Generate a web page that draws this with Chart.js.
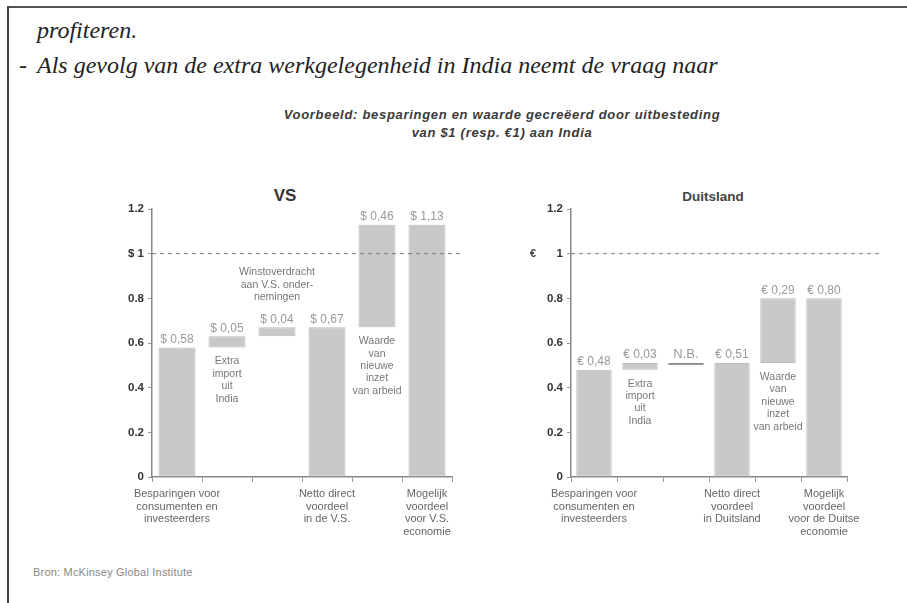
<!DOCTYPE html>
<html>
<head>
<meta charset="utf-8">
<script src="https://cdn.jsdelivr.net/npm/chart.js@4"></script>
<style>
  body { margin: 0; background: #fff; width: 907px; height: 603px; overflow: hidden; position: relative; }
  .frameTop { position: absolute; left: 7px; top: 6px; width: 900px; height: 2px; background: #555; }
  .frameLeft { position: absolute; left: 7px; top: 6px; width: 2px; height: 597px; background: #444; }
  .prose { position: absolute; font-family: "Liberation Serif", serif; font-style: italic; font-size: 24px; color: #222; white-space: nowrap; }
  .head { position: absolute; left: 252px; width: 500px; text-align: center; font-family: "Liberation Sans", Arial, sans-serif; font-style: italic; font-weight: bold; font-size: 13px; letter-spacing: 0.7px; color: #3a3a3a; white-space: nowrap; line-height: 18px; }
  .ctitle { position: absolute; font-family: "Liberation Sans", Arial, sans-serif; font-weight: bold; color: #333; transform: translateX(-50%); white-space: nowrap; }
  .src { position: absolute; left: 33px; top: 566px; font-family: "Liberation Sans", Arial, sans-serif; font-size: 11px; letter-spacing: 0.2px; color: #888; }
  canvas { position: absolute; }
</style>
</head>
<body>
<div class="frameTop"></div>
<div class="frameLeft"></div>
<div class="prose" style="left:37px; top:17px;">profiteren.</div>
<div class="prose" style="left:19px; top:52px;">-</div>
<div class="prose" style="left:37px; top:52px;">Als gevolg van de extra werkgelegenheid in India neemt de vraag naar</div>
<div class="head" style="top:106px;">Voorbeeld: besparingen en waarde gecreëerd door uitbesteding<br>van $1 (resp. €1) aan India</div>
<div class="ctitle" style="left:285px; top:186px; font-size:17px;">VS</div>
<div class="ctitle" style="left:713px; top:189px; font-size:13.5px; color:#444;">Duitsland</div>
<canvas id="vs" width="370" height="360" style="left:100px; top:190px;"></canvas>
<canvas id="de" width="380" height="360" style="left:520px; top:190px;"></canvas>
<div class="src">Bron: McKinsey Global Institute</div>

<script>
// VS (dollar) chart data
const vsCategories = [
  ["Besparingen voor", "consumenten en", "investeerders"],
  "", "",
  ["Netto direct", "voordeel", "in de V.S."],
  "",
  ["Mogelijk", "voordeel", "voor V.S.", "economie"]
];
const vsStart = [0, 0.58, 0.63, 0, 0.67, 0];
const vsEnd = [0.58, 0.63, 0.67, 0.67, 1.13, 1.13];
const vsValueLabels = ["$ 0,58", "$ 0,05", "$ 0,04", "$ 0,67", "$ 0,46", "$ 1,13"];
const vsNotes = [
  null,
  { where: "below", lines: ["Extra", "import", "uit", "India"] },
  { where: "above", lines: ["Winstoverdracht", "aan V.S. onder-", "nemingen"] },
  null,
  { where: "below", lines: ["Waarde", "van", "nieuwe", "inzet", "van arbeid"] },
  null
];

// Duitsland (euro) chart data
const deCategories = [
  ["Besparingen voor", "consumenten en", "investeerders"],
  "", "",
  ["Netto direct", "voordeel", "in Duitsland"],
  "",
  ["Mogelijk", "voordeel", "voor de Duitse", "economie"]
];
const deStart = [0, 0.48, 0.50, 0, 0.51, 0];
const deEnd = [0.48, 0.51, 0.51, 0.51, 0.80, 0.80];
const deValueLabels = ["€ 0,48", "€ 0,03", "N.B.", "€ 0,51", "€ 0,29", "€ 0,80"];
const deNotes = [
  null,
  { where: "below", lines: ["Extra", "import", "uit", "India"] },
  null,
  null,
  { where: "below", lines: ["Waarde", "van", "nieuwe", "inzet", "van arbeid"] },
  null
];

const yTicks = [0, 0.2, 0.4, 0.6, 0.8, 1, 1.2];

const FONT = '"Liberation Sans", Arial, sans-serif';

// draws the dashed $1 / €1 line, value labels and the notes
const annotate = {
  id: 'annotate',
  afterDatasetsDraw(chart, args, opts) {
    const c = chart.ctx;
    const { left, right } = chart.chartArea;
    const y = chart.scales.y;
    const meta = chart.getDatasetMeta(0);

    // dashed reference line at 1
    const y1 = y.getPixelForValue(1);
    c.save();
    c.strokeStyle = '#777';
    c.lineWidth = 1;
    c.setLineDash([4, 4]);
    c.beginPath();
    c.moveTo(left, y1);
    c.lineTo(right + opts.dashExtra, y1);
    c.stroke();
    c.setLineDash([]);

    if (opts.currency) {
      c.fillStyle = '#444';
      c.font = 'bold 11px ' + FONT;
      c.textAlign = 'center';
      c.textBaseline = 'middle';
      c.fillText(opts.currency, left - 38, y1);
    }

    c.textAlign = 'center';
    meta.data.forEach((bar, i) => {
      const top = Math.min(bar.y, bar.base);
      const bottom = Math.max(bar.y, bar.base);
      c.fillStyle = '#999';
      c.font = (opts.valueLabels[i] === 'N.B.' ? '13px ' : '12px ') + FONT;
      c.textBaseline = 'bottom';
      c.fillText(opts.valueLabels[i], bar.x, top - 2);

      const note = opts.notes[i];
      if (!note) return;
      c.fillStyle = '#777';
      c.font = '10.5px ' + FONT;
      c.textBaseline = 'middle';
      const lh = 12.4;
      if (note.where === 'below') {
        note.lines.forEach((t, k) => c.fillText(t, bar.x, bottom + 14 + k * lh));
      } else {
        const n = note.lines.length;
        note.lines.forEach((t, k) => c.fillText(t, bar.x, top - 30 - (n - 1 - k) * lh));
      }
    });
    c.restore();
  }
};

function makeChart(id, cats, starts, ends, valueLabels, notes, opt) {
  const ctx = document.getElementById(id).getContext('2d');
  const data = starts.map((s, i) => [s, ends[i]]);
  const colors = valueLabels.map(l => l === 'N.B.' ? '#8a8a8a' : '#c8c8c8');
  return new Chart(ctx, {
    type: 'bar',
    data: {
      labels: cats,
      datasets: [{
        data: data,
        backgroundColor: colors,
        borderColor: colors.map(c => c === '#8a8a8a' ? c : '#bbbbbb'),
        borderWidth: 1,
        borderSkipped: false,
        categoryPercentage: 1,
        barPercentage: opt.barPct
      }]
    },
    options: {
      responsive: false,
      animation: false,
      layout: { padding: { top: 19, right: opt.padRight, left: 0, bottom: 0 } },
      plugins: {
        legend: { display: false },
        tooltip: { enabled: false },
        annotate: { valueLabels: valueLabels, notes: notes, dashExtra: opt.dashExtra, currency: opt.currency }
      },
      scales: {
        x: {
          grid: { offset: true, drawOnChartArea: false, tickLength: 5, color: '#999' },
          border: { color: '#888', width: 1.5 },
          ticks: {
            color: '#666', maxRotation: 0, autoSkip: false, padding: 6,
            font: { family: FONT, size: 11, lineHeight: 1.14 }
          },
          afterFit(s) { s.height = 73; }
        },
        y: {
          min: 0, max: 1.2,
          afterBuildTicks(s) { s.ticks = yTicks.map(v => ({ value: v })); },
          grid: { drawOnChartArea: false, tickLength: 4, color: '#999' },
          border: { color: '#888', width: 1.5 },
          ticks: {
            color: '#333', padding: 4,
            font: { family: FONT, size: 11.5, weight: 'bold' },
            callback: v => v === 1 ? opt.oneLabel : (v === 0 ? '0' : v.toFixed(1))
          },
          afterFit(s) { s.width = opt.yWidth; }
        }
      }
    },
    plugins: [annotate]
  });
}

makeChart('vs', vsCategories, vsStart, vsEnd, vsValueLabels, vsNotes,
  { barPct: 0.74, padRight: 18, yWidth: 52, dashExtra: 11, oneLabel: '$ 1', currency: null });
makeChart('de', deCategories, deStart, deEnd, deValueLabels, deNotes,
  { barPct: 0.77, padRight: 53, yWidth: 51, dashExtra: 35, oneLabel: '1', currency: '€' });
</script>
</body>
</html>
